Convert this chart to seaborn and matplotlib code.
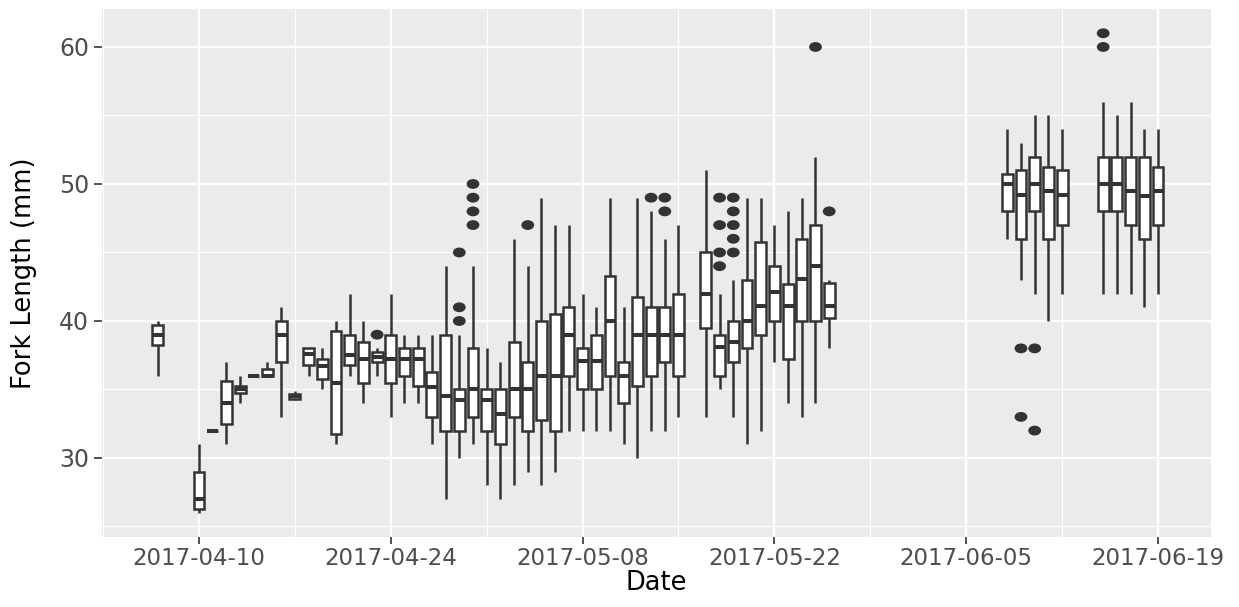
import matplotlib
matplotlib.use("Agg")
import numpy as np
import pandas as pd
import matplotlib.pyplot as plt
import matplotlib.dates as mdates
from matplotlib.path import Path
from matplotlib.transforms import Affine2D
from matplotlib.ticker import FixedLocator, MultipleLocator
import seaborn as sns

# Daily fork-length summaries (mm): whisker ends, quartiles and median
sample_dates = [
    "2017-04-07", "2017-04-10", "2017-04-11", "2017-04-12", "2017-04-13",
    "2017-04-14", "2017-04-15", "2017-04-16", "2017-04-17", "2017-04-18",
    "2017-04-19", "2017-04-20", "2017-04-21", "2017-04-22", "2017-04-23",
    "2017-04-24", "2017-04-25", "2017-04-26", "2017-04-27", "2017-04-28",
    "2017-04-29", "2017-04-30", "2017-05-01", "2017-05-02", "2017-05-03",
    "2017-05-04", "2017-05-05", "2017-05-06", "2017-05-07", "2017-05-08",
    "2017-05-09", "2017-05-10", "2017-05-11", "2017-05-12", "2017-05-13",
    "2017-05-14", "2017-05-15", "2017-05-17", "2017-05-18", "2017-05-19",
    "2017-05-20", "2017-05-21", "2017-05-22", "2017-05-23", "2017-05-24",
    "2017-05-25", "2017-05-26", "2017-06-08", "2017-06-09", "2017-06-10",
    "2017-06-11", "2017-06-12", "2017-06-15", "2017-06-16", "2017-06-17",
    "2017-06-18", "2017-06-19",
]
whisker_low = [
    36, 26, 32, 31, 34, 36, 36, 33, 34.2, 36,
    35, 31, 36, 34, 36, 33, 34, 34, 31, 27,
    30, 31, 28, 27, 28, 29, 28, 29, 32, 32,
    32, 32, 31, 30, 32, 32, 33, 33, 35, 33,
    31, 32, 37, 34, 33, 34, 38, 46, 43, 42,
    40, 42, 42, 42, 42, 41, 42,
]
quartile_1 = [
    38.25, 26.3, 32, 32.5, 34.75, 36, 36, 37, 34.3, 36.8,
    35.75, 31.75, 36.8, 35.5, 37, 35.5, 36, 35.25, 33, 32,
    32, 33, 32, 31, 33, 32, 32.75, 32, 36, 35,
    35, 36, 34, 35.25, 36, 37, 36, 39.5, 36, 37,
    38, 39, 40, 37.2, 40, 40, 40.25, 48, 46, 48,
    46, 47, 48, 48, 47, 46, 47,
]
medians = [
    39, 27, 32, 34, 35, 36, 36, 39, 34.5, 37.6,
    36.7, 35.5, 37.5, 37.25, 37.4, 37.2, 37.25, 37.2, 35.2, 34.5,
    34.2, 35, 34.2, 33.2, 35, 35, 36, 36, 39, 37.1,
    37.1, 40, 36, 39, 39, 39, 39, 42, 38.1, 38.5,
    40, 41.1, 42.1, 41.1, 43.1, 44, 41.1, 50, 49.2, 50,
    49.5, 49.2, 50, 50, 49.5, 49.1, 49.5,
]
quartile_3 = [
    39.7, 29, 32, 35.6, 35.25, 36, 36.5, 40, 34.7, 38.05,
    37.25, 39.25, 39, 38.5, 37.75, 39, 38, 38, 36.25, 39,
    35, 38, 35, 35, 38.5, 37, 40, 40.5, 41, 38,
    39, 43.25, 37, 41.75, 41, 41, 42, 45, 39, 40,
    43, 45.75, 44, 42.7, 46, 47, 42.75, 50.75, 51, 52,
    51.25, 51, 52, 52, 52, 52, 51.25,
]
whisker_high = [
    40, 31, 32, 37, 36, 36, 37, 41, 34.9, 38.05,
    38, 40, 42, 40, 38, 42, 39, 39, 39, 44,
    39, 44, 38, 37, 46, 44, 49, 47, 47, 42,
    41, 49, 41, 49, 48, 46, 47, 51, 42, 43,
    49, 49, 47, 48, 49, 52, 43, 54, 53, 55,
    55, 54, 56, 55, 56, 54, 54,
]

# Individual fish beyond the whiskers
outlier_dates = [
    "2017-04-23",
    "2017-04-29", "2017-04-29", "2017-04-29",
    "2017-04-30", "2017-04-30", "2017-04-30", "2017-04-30",
    "2017-05-04", "2017-05-13", "2017-05-14", "2017-05-14",
    "2017-05-18", "2017-05-18", "2017-05-18", "2017-05-18",
    "2017-05-19", "2017-05-19", "2017-05-19", "2017-05-19", "2017-05-19",
    "2017-05-25", "2017-05-26",
    "2017-06-09", "2017-06-09", "2017-06-10", "2017-06-10",
    "2017-06-15", "2017-06-15",
]
outlier_lengths = [
    39,
    40, 41, 45,
    47, 48, 49, 50,
    47, 49, 48, 49,
    44, 45, 47, 49,
    45, 46, 47, 48, 49,
    60, 48,
    33, 38, 32, 38,
    60, 61,
]

tick_dates = ["2017-04-10", "2017-04-24", "2017-05-08",
              "2017-05-22", "2017-06-05", "2017-06-19"]
y_ticks = [30, 40, 50, 60]

# Long table: each day's five summary numbers, so the box statistics
# computed by seaborn (whiskers spanning the full range) reproduce them
day_num = mdates.datestr2num(sample_dates)
rows = []
for d, lo, a, m, b, hi in zip(day_num, whisker_low, quartile_1, medians,
                               quartile_3, whisker_high):
    for v in (lo, a, m, b, hi):
        rows.append((d, v))
df = pd.DataFrame(rows, columns=["day", "fork_length"])

out_df = pd.DataFrame({"day": mdates.datestr2num(outlier_dates),
                       "fork_length": outlier_lengths})

sns.set_theme(style="darkgrid")
plt.rcParams["font.family"] = ["DejaVu Sans"]

ink = "#333333"
fig = plt.figure(figsize=(12.39, 6.07), dpi=100)
ax = fig.add_axes([0.0821, 0.1157, 0.8953, 0.869])
ax.set_facecolor("#EBEBEB")

sns.boxplot(
    data=df, x="day", y="fork_length", native_scale=True,
    width=0.8, whis=(0, 100), showfliers=False, showcaps=False,
    color="white", saturation=1, linecolor=ink, linewidth=1.8,
    medianprops={"linewidth": 2.9, "color": ink},
    ax=ax,
)

# slightly wide dots for the outlying fish
dot = Path.unit_circle().transformed(Affine2D().scale(1.3, 1.0))
sns.scatterplot(
    data=out_df, x="day", y="fork_length", marker=dot, s=85,
    color=ink, edgecolor="none", linewidth=0, ax=ax, zorder=4,
)

# axis ranges
t0 = mdates.datestr2num("2017-04-10")
ax.set_xlim(t0 - 7.1, t0 + 73.87)
ax.set_ylim(24.25, 62.75)

major_x = mdates.datestr2num(tick_dates)
ax.xaxis.set_major_locator(FixedLocator(major_x))
ax.xaxis.set_minor_locator(FixedLocator(np.concatenate([major_x - 7, major_x + 7])))
ax.xaxis.set_major_formatter(mdates.DateFormatter("%Y-%m-%d"))
ax.yaxis.set_major_locator(FixedLocator(y_ticks))
ax.yaxis.set_minor_locator(MultipleLocator(5))

ax.grid(which="major", color="white", linewidth=1.6)
ax.grid(which="minor", color="white", linewidth=0.8)
ax.set_axisbelow(True)
for s in ax.spines.values():
    s.set_visible(False)

ax.tick_params(axis="x", which="major", bottom=True, length=5, width=1.2,
               color=ink, labelcolor="#4D4D4D", labelsize=16.5, pad=2.5)
ax.tick_params(axis="y", which="major", left=True, length=6, width=1.2,
               color=ink, labelcolor="#4D4D4D", labelsize=17, pad=3)
ax.tick_params(which="minor", length=0)

ax.set_xlabel("Date", fontsize=18.5, color="black", labelpad=0)
ax.set_ylabel("Fork Length (mm)", fontsize=18.5, color="black", labelpad=16)

fig.savefig("out.png", dpi=100)
